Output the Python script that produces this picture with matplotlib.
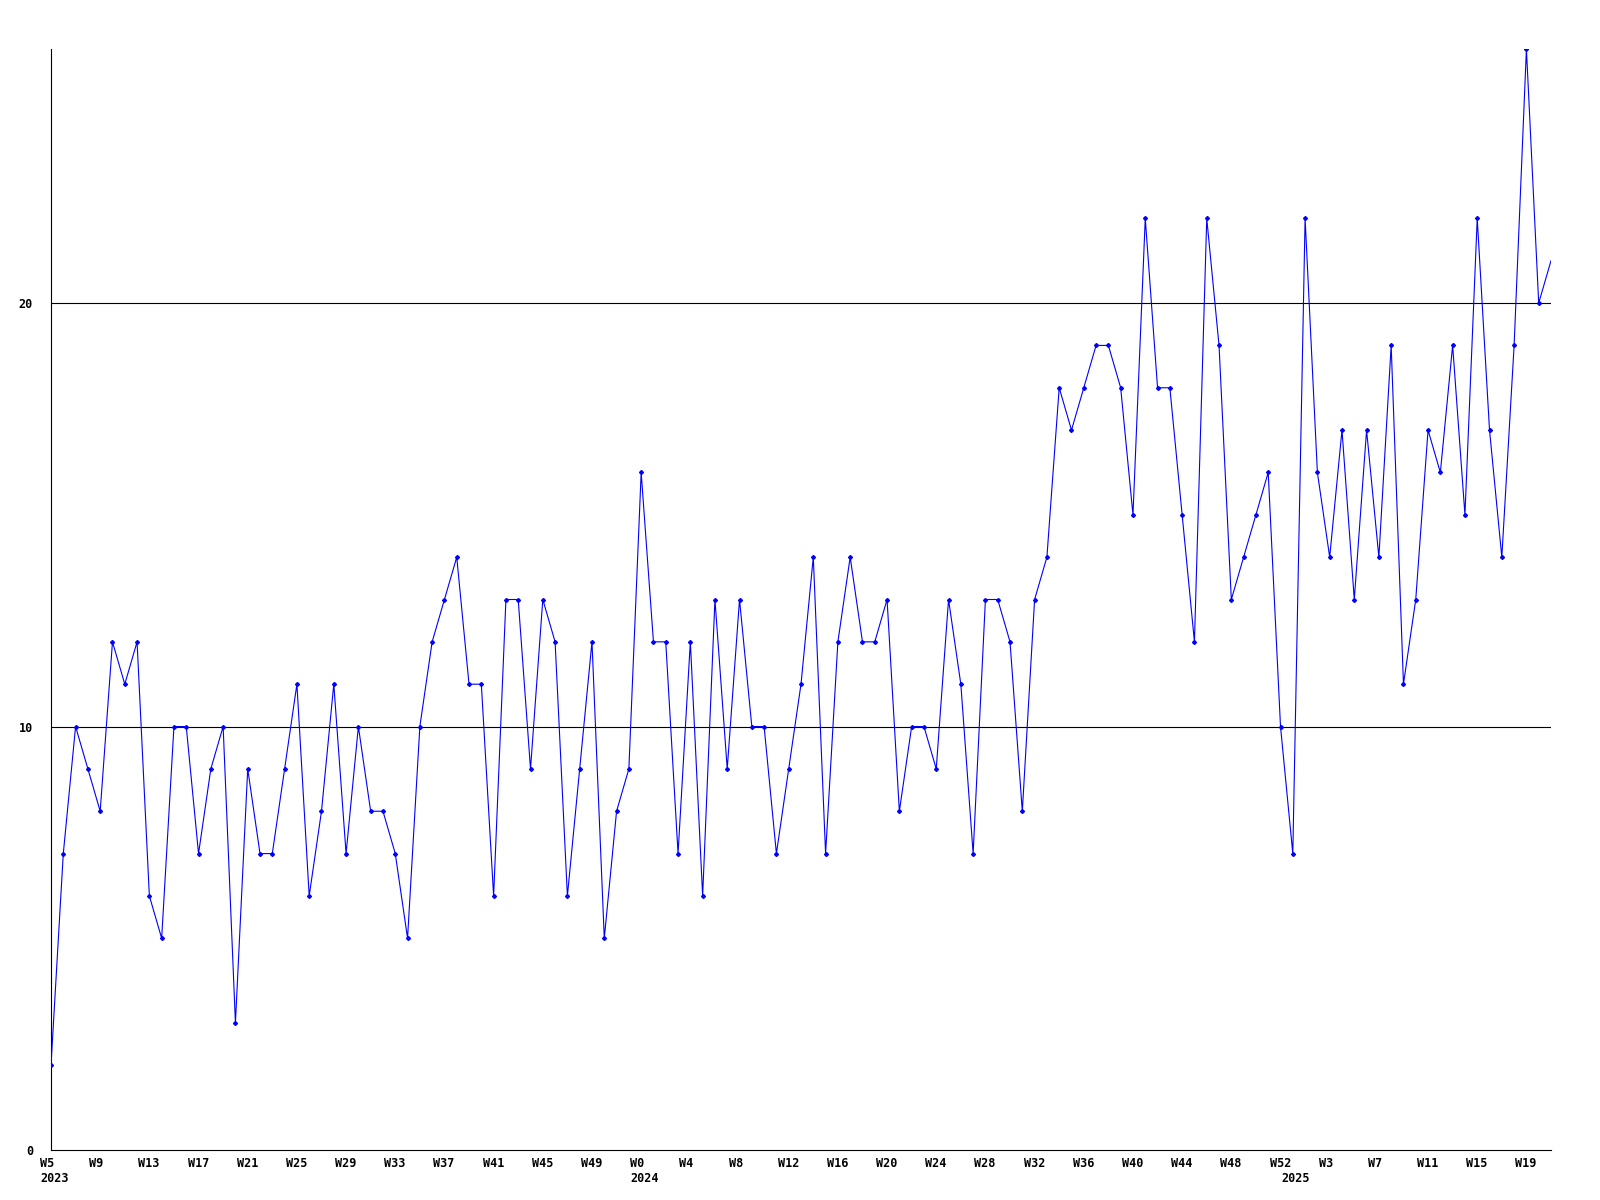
import matplotlib
matplotlib.use('Agg')
import matplotlib.pyplot as plt

# weekly counts, 2023 W5 .. 2025 W21
values = [2, 7, 10, 9, 8, 12, 11, 12, 6, 5, 10, 10, 7, 9, 10, 3, 9, 7, 7, 9,
          11, 6, 8, 11, 7, 10, 8, 8, 7, 5, 10, 12, 13, 14, 11, 11, 6, 13, 13, 9,
          13, 12, 6, 9, 12, 5, 8, 9, 16, 12, 12, 7, 12, 6, 13, 9, 13, 10, 10, 7,
          9, 11, 14, 7, 12, 14, 12, 12, 13, 8, 10, 10, 9, 13, 11, 7, 13, 13, 12, 8,
          13, 14, 18, 17, 18, 19, 19, 18, 15, 22, 18, 18, 15, 12, 22, 19, 13, 14, 15, 16,
          10, 7, 22, 16, 14, 17, 13, 17, 14, 19, 11, 13, 17, 16, 19, 15, 22, 17, 14, 19,
          26, 20, 21]

week_labels = ['W5', 'W9', 'W13', 'W17', 'W21', 'W25', 'W29', 'W33', 'W37', 'W41',
               'W45', 'W49', 'W0', 'W4', 'W8', 'W12', 'W16', 'W20', 'W24', 'W28',
               'W32', 'W36', 'W40', 'W44', 'W48', 'W52', 'W3', 'W7', 'W11', 'W15', 'W19']
week_pos = [4 * i for i in range(len(week_labels))]
year_labels = ['2023', '2024', '2025']
year_pos = [0, 48, 101]

y_ticks = [0, 10, 20]

x = list(range(len(values)))

fig = plt.figure(figsize=(16, 12), dpi=100)
ax = fig.add_axes([51 / 1600, 1 - 1150 / 1200, 1500 / 1600, 1101 / 1200])

font = dict(family='DejaVu Sans Mono', fontweight='bold', fontsize=8.5)

for t in y_ticks[1:]:
    ax.axhline(t, color='black', lw=0.8, zorder=1)

ax.plot(x, values, color='#0000ff', lw=0.8, marker='D', markersize=2,
        markevery=list(range(len(values) - 1)), zorder=3)

ax.set_xlim(0, len(values) - 1)
ax.set_ylim(0, 26)

for s in ['top', 'right']:
    ax.spines[s].set_visible(False)
for s in ['left', 'bottom']:
    ax.spines[s].set_linewidth(0.8)

ax.set_xticks([])
ax.set_yticks(y_ticks)
ax.set_yticklabels([str(t) for t in y_ticks], **font)
ax.tick_params(axis='y', length=0, pad=13)

for p, lab in zip(week_pos, week_labels):
    ax.annotate(lab, xy=(p, 0), xycoords=('data', 'axes fraction'),
                xytext=(-11, -7), textcoords='offset pixels',
                ha='left', va='top', **font)
for p, lab in zip(year_pos, year_labels):
    ax.annotate(lab, xy=(p, 0), xycoords=('data', 'axes fraction'),
                xytext=(-11, -22), textcoords='offset pixels',
                ha='left', va='top', **font)

plt.savefig('out.png', dpi=100)
